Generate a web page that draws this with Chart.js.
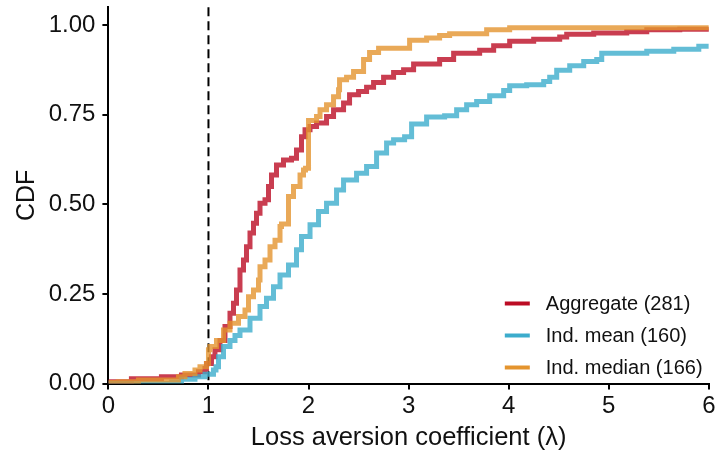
<!DOCTYPE html>
<html>
<head>
<meta charset="utf-8">
<script src="https://cdn.jsdelivr.net/npm/chart.js@4.4.0/dist/chart.umd.min.js"></script>
<style>
  html, body { margin: 0; padding: 0; background: #fff; }
  #wrap { width: 718px; height: 460px; }
</style>
</head>
<body>
<div id="wrap"><canvas id="cdfChart" width="718" height="460"></canvas></div>
<script>
const aggX = [0, 0.23, 0.53, 0.73, 0.9, 0.965, 0.98, 1.03, 1.065, 1.115, 1.165, 1.215, 1.25, 1.28, 1.315, 1.35, 1.38, 1.415, 1.45, 1.48,
              1.515, 1.565, 1.60, 1.63, 1.68, 1.75, 1.83, 1.88, 1.93, 1.965, 2.015, 2.08, 2.18, 2.25, 2.35, 2.41, 2.50, 2.58, 2.65, 2.75,
              2.85, 2.95, 3.05, 3.31, 3.45, 3.71, 3.85, 4.01, 4.25, 4.51, 4.58, 4.85, 5.18, 5.38, 5.71, 6.0];
const aggY = [0.005, 0.013, 0.019, 0.024, 0.033, 0.042, 0.056, 0.075, 0.094, 0.12, 0.159, 0.196, 0.224, 0.261, 0.317, 0.345, 0.382, 0.42, 0.447, 0.475,
              0.503, 0.513, 0.55, 0.582, 0.61, 0.624, 0.629, 0.652, 0.689, 0.708, 0.717, 0.727, 0.745, 0.764, 0.783, 0.806, 0.815, 0.827, 0.84, 0.855,
              0.868, 0.876, 0.892, 0.904, 0.922, 0.93, 0.943, 0.955, 0.961, 0.967, 0.975, 0.978, 0.982, 0.987, 0.989, 0.991];

const meanX = [0, 0.63, 0.73, 0.865, 0.965, 1.05, 1.075, 1.10, 1.15, 1.215, 1.265, 1.315, 1.415, 1.515, 1.58, 1.65, 1.715, 1.80, 1.88, 1.93,
               2.015, 2.10, 2.18, 2.28, 2.35, 2.48, 2.58, 2.68, 2.78, 2.85, 2.96, 3.03, 3.18, 3.36, 3.48, 3.58, 3.68, 3.81, 3.95, 4.01,
               4.18, 4.35, 4.41, 4.48, 4.61, 4.75, 4.88, 4.93, 5.38, 5.65, 5.9, 6.0];
const meanY = [0.0, 0.004, 0.012, 0.019, 0.026, 0.038, 0.047, 0.075, 0.103, 0.12, 0.134, 0.149, 0.182, 0.215, 0.238, 0.27, 0.303, 0.331, 0.373, 0.41,
               0.443, 0.48, 0.503, 0.54, 0.568, 0.587, 0.606, 0.643, 0.671, 0.68, 0.689, 0.724, 0.744, 0.747, 0.764, 0.778, 0.787, 0.803, 0.818, 0.831,
               0.834, 0.843, 0.855, 0.874, 0.887, 0.899, 0.904, 0.922, 0.927, 0.933, 0.941, 0.941];

const medX = [0, 0.1, 0.3, 0.70, 0.765, 0.865, 0.915, 0.98, 1.0, 1.015, 1.08, 1.15, 1.215, 1.30, 1.365, 1.40, 1.45, 1.50, 1.515, 1.565,
              1.615, 1.665, 1.715, 1.73, 1.80, 1.85, 1.915, 1.95, 1.97, 2.0, 2.08, 2.115, 2.18, 2.25, 2.30, 2.31, 2.38, 2.45, 2.55, 2.61,
              2.70, 3.01, 3.18, 3.31, 3.41, 3.78, 4.01, 6.0];
const medY = [0.003, 0.005, 0.01, 0.019, 0.028, 0.038, 0.047, 0.056, 0.094, 0.103, 0.12, 0.149, 0.168, 0.187, 0.205, 0.242, 0.261, 0.289, 0.326, 0.345,
              0.382, 0.40, 0.438, 0.445, 0.522, 0.55, 0.582, 0.596, 0.601, 0.734, 0.745, 0.764, 0.778, 0.80, 0.82, 0.848, 0.855, 0.871, 0.904, 0.924,
              0.936, 0.958, 0.964, 0.971, 0.976, 0.987, 0.993, 0.995];

const seriesLabels = ["Aggregate (281)", "Ind. mean (160)", "Ind. median (166)"];
const seriesColors = ["188, 12, 36", "60, 172, 204", "228, 148, 46"];
const xTicks = [0, 1, 2, 3, 4, 5, 6];
const yTicks = [0, 0.25, 0.5, 0.75, 1.0];
const refLambda = 1;

const FONT = "'Liberation Sans', Arial, Helvetica, sans-serif";
const INK = "#111";

function toPoints(xs, ys) {
    return xs.map((x, i) => ({ x: x, y: ys[i] }));
}

function makeSet(i, xs, ys, order) {
    return {
        label: seriesLabels[i],
        data: toPoints(xs, ys),
        borderColor: `rgba(${seriesColors[i]}, 0.8)`,
        borderWidth: 5,
        pointRadius: 0,
        stepped: true,
        fill: false,
        order: order
    };
}

// dashed reference line at lambda = 1, behind the curves
const refLine = {
    id: 'refLine',
    beforeDatasetsDraw(chart) {
        const { ctx, chartArea, scales } = chart;
        const x = scales.x.getPixelForValue(refLambda);
        ctx.save();
        ctx.strokeStyle = "#000";
        ctx.lineWidth = 2;
        ctx.setLineDash([9, 5]);
        ctx.beginPath();
        ctx.moveTo(x, chartArea.top);
        ctx.lineTo(x, chartArea.bottom);
        ctx.stroke();
        ctx.restore();
    }
};

// legend drawn inside the plot, bottom right
const innerLegend = {
    id: 'innerLegend',
    afterDatasetsDraw(chart) {
        const { ctx, chartArea } = chart;
        const keyX = chartArea.right - 204;
        ctx.save();
        ctx.font = `20px ${FONT}`;
        ctx.textBaseline = "middle";
        seriesLabels.forEach((lab, i) => {
            const y = chartArea.bottom - 80 + i * 32;
            ctx.strokeStyle = `rgb(${seriesColors[i]})`;
            ctx.lineWidth = 4;
            ctx.setLineDash([]);
            ctx.beginPath();
            ctx.moveTo(keyX, y);
            ctx.lineTo(keyX + 25, y);
            ctx.stroke();
            ctx.fillStyle = INK;
            ctx.fillText(lab, keyX + 41, y + 1);
        });
        ctx.restore();
    }
};

new Chart(document.getElementById('cdfChart').getContext('2d'), {
    type: 'line',
    data: {
        datasets: [
            makeSet(0, aggX, aggY, 3),
            makeSet(1, meanX, meanY, 2),
            makeSet(2, medX, medY, 1)
        ]
    },
    options: {
        responsive: false,
        animation: false,
        devicePixelRatio: 1,
        layout: { padding: { top: 7.3, right: 9.2, left: 0, bottom: 0 } },
        plugins: { legend: { display: false }, tooltip: { enabled: false } },
        scales: {
            x: {
                type: 'linear',
                min: 0,
                max: 6,
                afterBuildTicks: (s) => { s.ticks = xTicks.map(v => ({ value: v })); },
                afterFit: (s) => { s.height = 76.5; s.paddingLeft = 0; s.paddingRight = 0; },
                border: { display: true, color: '#000', width: 2 },
                grid: { drawOnChartArea: false, drawTicks: true, tickLength: 6, color: '#000', lineWidth: 2 },
                ticks: { color: INK, font: { family: FONT, size: 24 }, padding: 2, maxRotation: 0 },
                title: { display: true, text: 'Loss aversion coefficient (λ)', color: INK,
                         font: { family: FONT, size: 25.5 }, padding: { top: 0, bottom: 7 } }
            },
            y: {
                type: 'linear',
                min: 0,
                max: 1.05,
                afterBuildTicks: (s) => { s.ticks = yTicks.map(v => ({ value: v })); },
                afterFit: (s) => { s.width = 108.4; s.paddingTop = 0; s.paddingBottom = 0; },
                border: { display: true, color: '#000', width: 2 },
                grid: { drawOnChartArea: false, drawTicks: true, tickLength: 6, color: '#000', lineWidth: 2 },
                ticks: { color: INK, font: { family: FONT, size: 24 }, padding: 7,
                         callback: (v) => Number(v).toFixed(2) },
                title: { display: true, text: 'CDF', color: INK,
                         font: { family: FONT, size: 25 }, padding: { top: 12, bottom: 0 } }
            }
        }
    },
    plugins: [refLine, innerLegend]
});
</script>
</body>
</html>
